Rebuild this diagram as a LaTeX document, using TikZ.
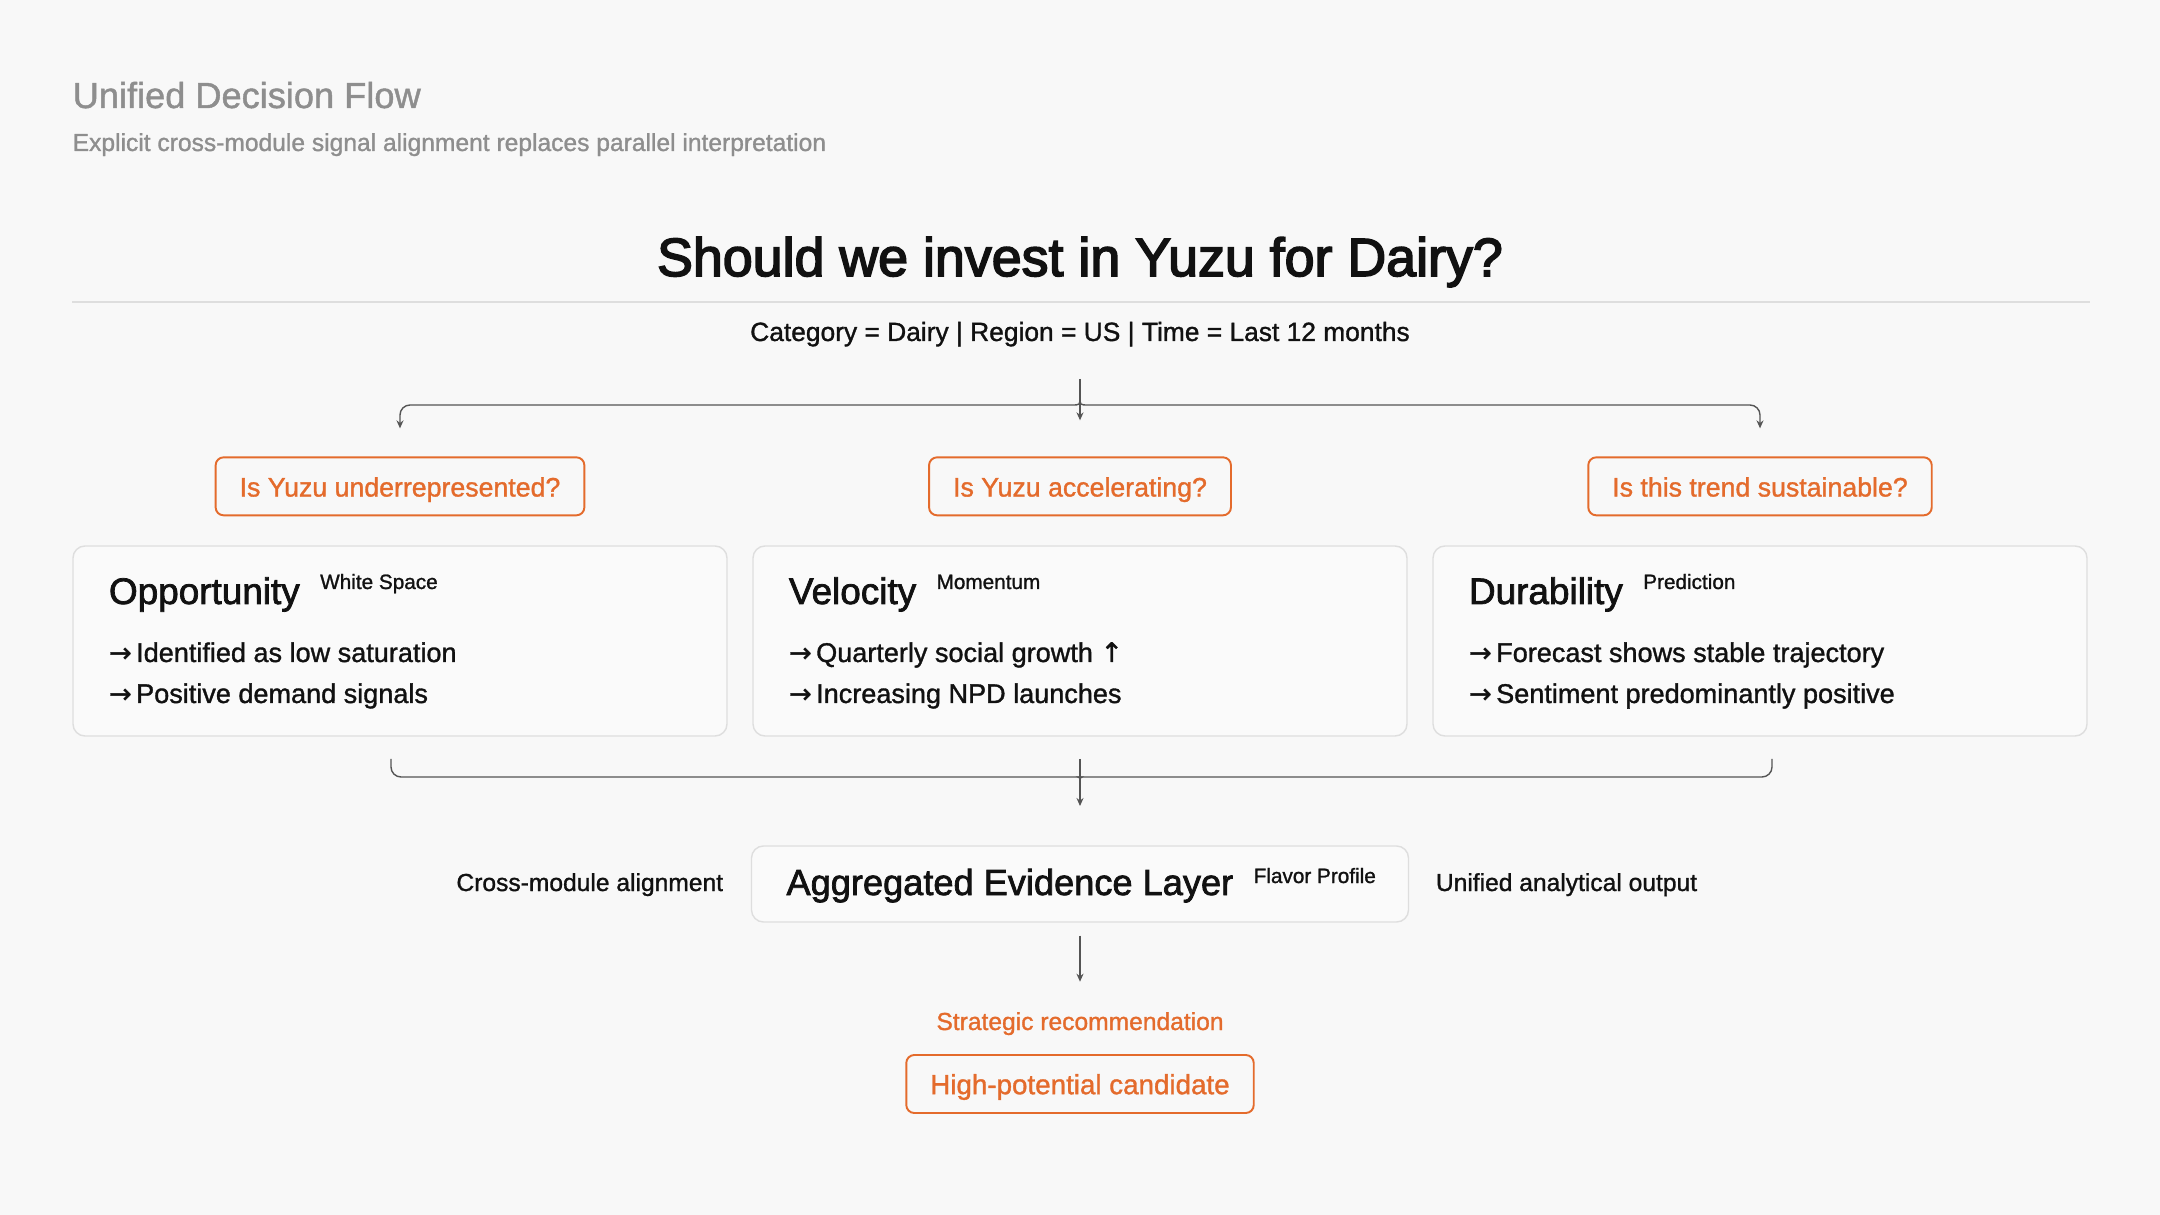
\documentclass[tikz,border=0pt]{standalone}
\usepackage{fontspec}
\setmainfont[FakeBold=1.2]{Liberation Sans}
\newfontfamily\headfont[FakeBold=3]{Liberation Sans}
\newfontfamily\midfont[FakeBold=2]{Liberation Sans}
\newfontfamily\arrowfont[FakeBold=1.2]{DejaVu Sans}
\usetikzlibrary{arrows.meta, calc, positioning}
\definecolor{pagebg}{HTML}{F8F8F8}
\definecolor{cardbg}{HTML}{FAFAFA}
\definecolor{accent}{HTML}{E46B2C}
\definecolor{muted}{HTML}{8E8E8E}
\definecolor{wirec}{HTML}{555555}
\definecolor{cardline}{HTML}{DEDEDE}
\definecolor{ink}{HTML}{111111}
\newcommand{\cardw}{65.4mm}
\newcommand{\cardh}{19mm}
\newcommand{\fs}[2]{\fontsize{#1}{#2}\selectfont}
\newcommand{\nextarrow}{{\arrowfont →}\,}
\tikzset{
  card/.style={
    draw=cardline, fill=cardbg, line width=0.4pt, rounded corners=1.2mm,
    minimum width=\cardw, minimum height=\cardh, inner sep=0pt
  },
  askbox/.style={
    draw=accent, text=accent, line width=0.55pt, rounded corners=0.8mm,
    minimum height=5.8mm, inner xsep=2.4mm, inner ysep=0pt,
    text height=7.4pt, text depth=1.6pt, font=\fs{7.6}{9}
  },
  wire/.style={draw=wirec, line width=0.4pt},
  feed/.style={wire, -{Stealth[length=0.8mm, width=0.7mm]}},
  cardtitle/.style={anchor=base west, inner sep=0pt, text=ink, font=\midfont\fs{10.5}{12}},
  cardtag/.style={anchor=base west, inner sep=0pt, text=ink, font=\fs{5.9}{7}},
  bullet/.style={anchor=base west, inner sep=0pt, text=ink, font=\fs{7.7}{9}},
  sidenote/.style={inner sep=0pt, text=ink, font=\fs{7}{8.4}}
}
% name, x, title, tag, first line, second line
\newcommand{\modulecard}[6]{%
  \node[card] (#1) at (#2,641) {};
  \node[cardtitle] (#1-title) at ($(#1.west)+(36,-37)$) {#3};
  \node[cardtag] (#1-tag) at ($(#1-title.base east)+(19,-15)$) {#4};
  \node[bullet] (#1-a) at ($(#1.west)+(36,21)$) {\nextarrow#5};
  \node[bullet] (#1-b) at ($(#1.west)+(36,62)$) {\nextarrow#6};
}

\begin{document}
\begin{tikzpicture}[x=0.1mm, y=-0.1mm]
  \fill[pagebg] (0,0) rectangle (2160,1215);

  \node[anchor=base west, inner sep=0pt, text=muted, font=\fs{10.3}{12}] (heading) at (72,108) {Unified Decision Flow};
  \node[anchor=base west, inner sep=0pt, text=muted, font=\fs{7}{8.4}] (subheading) at (72,151)
    {Explicit cross-module signal alignment replaces parallel interpretation};

  \node[anchor=base, inner sep=0pt, text=ink, font=\headfont\fs{15.3}{18}] (question) at (1080,276) {Should we invest in Yuzu for Dairy?};
  \draw[cardline, line width=0.5pt] (72,302) -- (2090,302);
  \node[anchor=base, inner sep=0pt, text=ink, font=\fs{7.5}{9}] (scope) at (1080,341)
    {Category = Dairy | Region = US | Time = Last 12 months};

  \modulecard{opp}{400}{Opportunity}{White Space}{Identified as low saturation}{Positive demand signals}
  \modulecard{vel}{1080}{Velocity}{Momentum}{Quarterly social growth {\arrowfont ↑}}{Increasing NPD launches}
  \modulecard{dur}{1760}{Durability}{Prediction}{Forecast shows stable trajectory}{Sentiment predominantly positive}

  \node[askbox, above=2.9mm of opp] (q1) {Is Yuzu underrepresented?};
  \node[askbox, above=2.9mm of vel] (q2) {Is Yuzu accelerating?};
  \node[askbox, above=2.9mm of dur] (q3) {Is this trend sustainable?};

  % fan-out
  \coordinate (fork) at (1080,379);
  \coordinate (forkjoin) at (1080,397);
  \draw[feed] (fork) -- ([yshift=3.6mm]q2.north);
  \draw[feed] (forkjoin) .. controls (1080,405) .. (1072,405)
    [rounded corners=1mm] -| ([yshift=2.8mm]q1.north);
  \draw[feed] (forkjoin) .. controls (1080,405) .. (1088,405)
    [rounded corners=1mm] -| ([yshift=2.8mm]q3.north);

  % fan-in
  \coordinate (mergel) at (391,759);
  \coordinate (merger) at (1772,759);
  \coordinate (mergetop) at (1080,759);
  \coordinate (mergejoin) at (1080,786);
  \draw[wire, rounded corners=1mm] (mergel) |- (1072,777) .. controls (1080,777) .. (mergejoin);
  \draw[wire, rounded corners=1mm] (merger) |- (1088,777) .. controls (1080,777) .. (mergejoin);
  \draw[feed] (mergetop) -- (1080,806);

  \node[card, minimum width=65.7mm, minimum height=7.6mm] (agg) at (1080,884) {};
  \node[cardtitle, font=\midfont\fs{10.3}{12}] (agg-title) at ($(agg.west)+(35,11)$) {Aggregated Evidence Layer};
  \node[cardtag] (agg-tag) at ($(agg-title.base east)+(19,-12)$) {Flavor Profile};
  \node[sidenote, anchor=base east] (agg-left) at ($(agg.west)+(-27,7)$) {Cross-module alignment};
  \node[sidenote, anchor=base west] (agg-right) at ($(agg.east)+(26,7)$) {Unified analytical output};

  \draw[feed] ([yshift=-1.3mm]agg.south) -- ([yshift=-5.9mm]agg.south);
  \node[anchor=base, inner sep=0pt, text=accent, font=\fs{7}{8.4}] (verdict-label) at (1080,1030) {Strategic recommendation};
  \node[askbox, font=\fs{7.9}{9.5}] (verdict) at (1080,1084) {High-potential candidate};
\end{tikzpicture}
\end{document}
